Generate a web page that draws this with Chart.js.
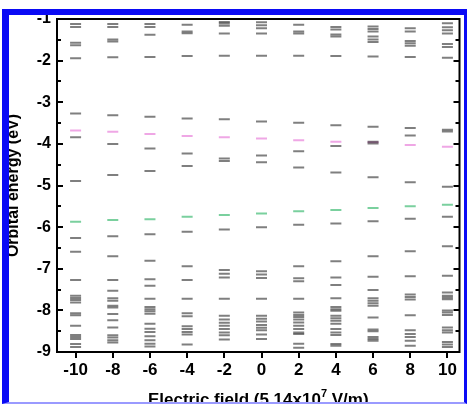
<!DOCTYPE html>
<html>
<head>
<meta charset="utf-8">
<script src="https://cdn.jsdelivr.net/npm/chart.js@4.4.1/dist/chart.umd.min.js"></script>
<style>
  html, body { margin: 0; padding: 0; background: #fff; }
  #wrap { position: relative; width: 467px; height: 404px; overflow: hidden; }
  #frame {
    position: absolute; left: 2px; top: 9px; right: 0; bottom: 0;
    border-left: 7px solid #0a0af5; border-top: 6px solid #0a0af5;
    border-right: 3px solid #0a0af5; border-bottom: 2px solid #9a9aff;
    pointer-events: none;
  }
</style>
</head>
<body>
<div id="wrap">
  <canvas id="levels" width="467" height="404"></canvas>
  <div id="frame"></div>
</div>
<script>
// field strength, in units of 5.14x10^7 V/m
const fields = [-10, -8, -6, -4, -2, 0, 2, 4, 6, 8, 10];

// orbital energies (eV) read per field column
const levelsM10 = [-1.12, -1.19, -1.57, -1.63, -1.94, -3.27, -3.84, -4.89, -6.26, -6.59, -7.27, -7.65, -7.70, -7.75, -7.81, -8.07, -8.12, -8.37, -8.59, -8.64, -8.69, -8.81, -8.88];
const levelsM8 = [-1.12, -1.19, -1.49, -1.54, -1.92, -3.31, -4.00, -4.75, -6.22, -6.70, -7.27, -7.53, -7.71, -7.77, -7.89, -7.93, -8.09, -8.24, -8.41, -8.60, -8.65, -8.72, -8.77];
const levelsM6 = [-1.12, -1.19, -1.38, -1.91, -3.35, -4.11, -4.65, -6.17, -6.81, -7.25, -7.41, -7.72, -7.92, -7.97, -8.02, -8.08, -8.32, -8.44, -8.52, -8.62, -8.72, -8.80, -8.87];
const levelsM4 = [-1.14, -1.30, -1.34, -1.89, -3.39, -4.23, -4.53, -6.11, -6.94, -7.27, -7.72, -8.07, -8.14, -8.38, -8.45, -8.52, -8.58, -8.82];
const levelsM2 = [-1.07, -1.11, -1.16, -1.35, -1.88, -3.41, -4.35, -4.41, -6.06, -7.03, -7.12, -7.21, -7.72, -8.13, -8.22, -8.30, -8.37, -8.45, -8.53, -8.60, -8.70];
const levels0 = [-1.08, -1.15, -1.22, -1.35, -1.88, -3.46, -4.28, -4.44, -6.00, -7.06, -7.14, -7.22, -7.72, -8.13, -8.20, -8.27, -8.35, -8.42, -8.48, -8.58, -8.69];
const levelsP2 = [-1.14, -1.30, -1.35, -1.88, -3.49, -4.18, -4.57, -5.94, -6.94, -7.23, -7.30, -7.72, -8.05, -8.11, -8.16, -8.22, -8.29, -8.37, -8.45, -8.53, -8.57, -8.80, -8.90];
const levelsP4 = [-1.19, -1.25, -1.37, -1.42, -1.89, -3.55, -4.05, -4.69, -5.91, -6.82, -7.21, -7.39, -7.71, -7.92, -7.97, -8.01, -8.13, -8.19, -8.25, -8.32, -8.45, -8.53, -8.59, -8.81, -8.85];
const levelsP6 = [-1.18, -1.24, -1.30, -1.42, -1.49, -1.55, -1.90, -3.59, -3.95, -3.99, -4.80, -5.86, -6.70, -7.19, -7.51, -7.71, -7.77, -7.83, -7.89, -8.17, -8.46, -8.50, -8.64, -8.69, -8.73];
const levelsP8 = [-1.22, -1.30, -1.53, -1.58, -1.64, -1.91, -3.62, -3.80, -4.92, -5.80, -6.58, -7.18, -7.62, -7.68, -7.74, -8.12, -8.48, -8.57, -8.64, -8.73, -8.85];
const levelsP10 = [-1.10, -1.20, -1.27, -1.35, -1.60, -1.67, -1.93, -3.66, -3.70, -5.03, -5.75, -6.46, -7.17, -7.57, -7.65, -7.69, -7.73, -8.00, -8.05, -8.11, -8.41, -8.48, -8.53, -8.76, -8.82, -8.88];
const grayLevels = [levelsM10, levelsM8, levelsM6, levelsM4, levelsM2, levels0, levelsP2, levelsP4, levelsP6, levelsP8, levelsP10];

// highlighted orbitals
const pinkLevels = [-3.68, -3.71, -3.76, -3.81, -3.84, -3.87, -3.91, -3.95, -3.96, -4.03, -4.07];
const greenLevels = [-5.87, -5.83, -5.81, -5.75, -5.71, -5.67, -5.62, -5.59, -5.54, -5.50, -5.46];

const xTickValues = [-10, -8, -6, -4, -2, 0, 2, 4, 6, 8, 10];
const yTickValues = [-1, -2, -3, -4, -5, -6, -7, -8, -9];
const yMinorTicks = [-1.5, -2.5, -3.5, -4.5, -5.5, -6.5, -7.5, -8.5];

const FONT = '"Liberation Sans", Arial, sans-serif';

const grayPoints = [];
fields.forEach((f, i) => grayLevels[i].forEach(e => grayPoints.push({ x: f, y: e })));
const pinkPoints = fields.map((f, i) => ({ x: f, y: pinkLevels[i] }));
const greenPoints = fields.map((f, i) => ({ x: f, y: greenLevels[i] }));

function levelSet(points, color) {
  return {
    data: points,
    pointStyle: 'line',
    pointRadius: 5.5,
    pointHoverRadius: 5.5,
    pointBorderWidth: 2,
    pointBorderColor: color,
    borderColor: color,
    showLine: false
  };
}

// frame, inward y ticks, outward x ticks and the x title with superscript
const axesFrame = {
  id: 'axesFrame',
  afterDatasetsDraw(chart) {
    const { ctx, chartArea: a, scales: { x, y } } = chart;
    ctx.save();
    ctx.strokeStyle = '#000';
    ctx.lineWidth = 2;
    ctx.strokeRect(a.left, a.top, a.right - a.left, a.bottom - a.top);
    const seg = (x1, y1, x2, y2) => { ctx.beginPath(); ctx.moveTo(x1, y1); ctx.lineTo(x2, y2); ctx.stroke(); };
    yTickValues.forEach(v => {
      const py = Math.round(y.getPixelForValue(v));
      seg(a.left, py, a.left + 6, py);
      seg(a.right, py, a.right - 6, py);
    });
    yMinorTicks.forEach(v => {
      const py = Math.round(y.getPixelForValue(v));
      seg(a.left, py, a.left + 4, py);
      seg(a.right, py, a.right - 4, py);
    });
    xTickValues.forEach(v => {
      const px = Math.round(x.getPixelForValue(v));
      seg(px, a.bottom, px, a.bottom + 6);
    });

    // x title
    const base = 'Electric field (5.14x10', sup = '7', tail = ' V/m)';
    ctx.fillStyle = '#000';
    ctx.textBaseline = 'alphabetic';
    ctx.font = 'bold 17px ' + FONT;
    const w1 = ctx.measureText(base).width, w3 = ctx.measureText(tail).width;
    ctx.font = 'bold 11px ' + FONT;
    const w2 = ctx.measureText(sup).width;
    let tx = (a.left + a.right) / 2 - (w1 + w2 + w3) / 2;
    const ty = 405;
    ctx.font = 'bold 17px ' + FONT;
    ctx.fillText(base, tx, ty);
    ctx.font = 'bold 11px ' + FONT;
    ctx.fillText(sup, tx + w1, ty - 8);
    ctx.font = 'bold 17px ' + FONT;
    ctx.fillText(tail, tx + w1 + w2, ty);
    ctx.restore();
  }
};

new Chart(document.getElementById('levels'), {
  type: 'scatter',
  data: {
    datasets: [
      levelSet(grayPoints, 'rgba(35, 35, 35, 0.58)'),
      levelSet(pinkPoints, 'rgba(230, 120, 215, 0.65)'),
      levelSet(greenPoints, 'rgba(70, 190, 120, 0.72)')
    ]
  },
  options: {
    responsive: false,
    animation: false,
    events: [],
    layout: { padding: { left: 0, top: 19, right: 3, bottom: 0 } },
    plugins: { legend: { display: false }, tooltip: { enabled: false } },
    scales: {
      x: {
        type: 'linear',
        min: -11,
        max: 10.65,
        afterBuildTicks: s => { s.ticks = xTickValues.map(v => ({ value: v })); },
        afterFit: s => { s.height = 52; },
        grid: { display: false, drawTicks: false },
        border: { display: false },
        ticks: { color: '#000', padding: 8, font: { family: FONT, size: 17, weight: 'bold' } }
      },
      y: {
        type: 'linear',
        min: -9,
        max: -1,
        afterBuildTicks: s => { s.ticks = yTickValues.map(v => ({ value: v })); },
        afterFit: s => { s.width = 57; },
        grid: { display: false, drawTicks: false },
        border: { display: false },
        ticks: { color: '#000', padding: 6, font: { family: FONT, size: 16, weight: 'bold' } },
        title: {
          display: true,
          text: 'Orbital energy (eV)',
          color: '#000',
          padding: { top: 4, bottom: 0 },
          font: { family: FONT, size: 16, weight: 'bold', lineHeight: 1.2 }
        }
      }
    }
  },
  plugins: [axesFrame]
});
</script>
</body>
</html>
